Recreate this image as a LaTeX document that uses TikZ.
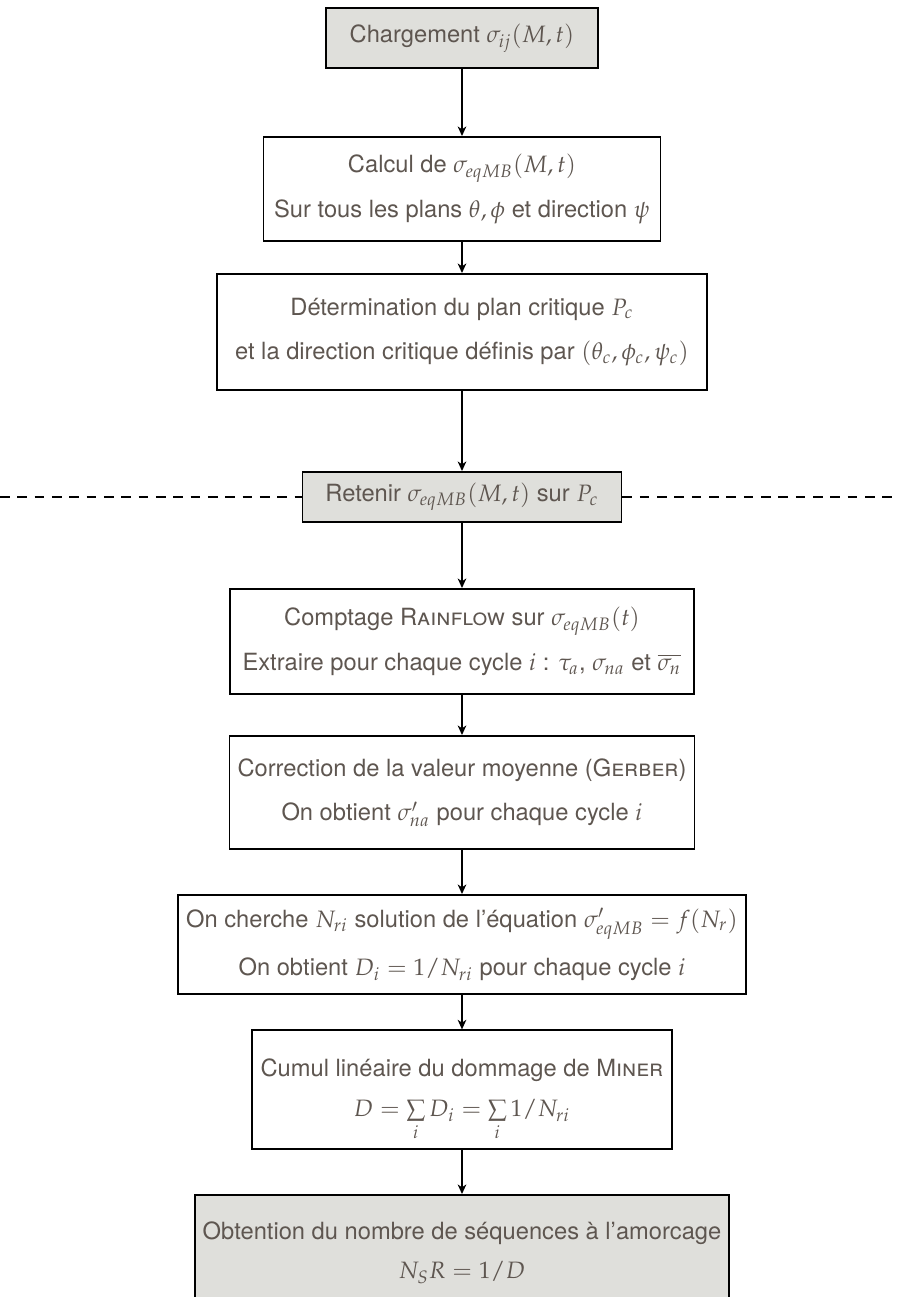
\documentclass[tikz,border=0pt]{standalone}
\usepackage{amsmath}
\usepackage{mathpazo}
\usepackage[no-math]{fontspec}
\setmainfont{TeX Gyre Heros}
\usepackage{tikz}
\usetikzlibrary{arrows.meta,calc}
\usetikzlibrary{positioning,shapes}
\definecolor{txtgray}{RGB}{94,86,80}
\definecolor{boxgray}{RGB}{223,223,219}
\newlength{\pxu}
\setlength{\pxu}{0.0146cm}
\tikzset{
    %Define style for boxes
    step box/.style n args={2}{
        rectangle,
        draw=black, line width=0.8pt,
        align=center,
        text=txtgray,
        font=\fontsize{9.85}{12}\selectfont,
        minimum width=#1\pxu,
        minimum height=#2\pxu,
    },
    key box/.style n args={2}{
        step box={#1}{#2},
        fill=boxgray,
    },
    flow/.style={
        draw=black, line width=0.6pt,
        -{Stealth[length=4pt,width=3.6pt,inset=1.2pt]},
    },
    sep line/.style={
        draw=black, line width=0.8pt,
        dash pattern=on 4pt off 3.2pt,
    },
}

\begin{document}
\begin{tikzpicture}[x=0.0146cm,y=-0.0146cm]
		\useasboundingbox (0,0) rectangle (899,1297);

		\node[key box={272}{60}] (load) at (462,38)
			{Chargement $\sigma_{ij}(M,t)$};
		\node[step box={397}{104}] (calc) at (462,189)
			{Calcul de $\sigma_{eqMB}(M,t)$\\[6.5pt]
			 Sur tous les plans $\theta,\phi$ et direction $\psi$};
		\node[step box={490}{116}] (plane) at (462,332)
			{Détermination du plan critique $P_c$\\[6.5pt]
			 et la direction critique définis par $(\theta_c,\phi_c,\psi_c)$};
		\node[key box={319}{50}] (keep) at (462,497)
			{Retenir $\sigma_{eqMB}(M,t)$ sur $P_c$};
		\node[step box={464}{105}] (count) at (462,641.5)
			{Comptage \textsc{Rainflow} sur $\sigma_{eqMB}(t)$\\[6.5pt]
			 Extraire pour chaque cycle $i$ : $\tau_a$, $\sigma_{na}$ et $\overline{\sigma_n}$};
		\node[step box={450}{113}] (mean) at (462,792.5)
			{Correction de la valeur moyenne (\textsc{Gerber})\\[6.5pt]
			 On obtient $\sigma'_{na}$ pour chaque cycle $i$};
		\node[step box={566}{99}] (solve) at (462,944.5)
			{On cherche $N_{ri}$ solution de l'équation $\sigma'_{eqMB}=f(N_r)$\\[6.5pt]
			 On obtient $D_i=1/N_{ri}$ pour chaque cycle $i$};
		\node[step box={420}{105}] (miner) at (462,1089.5)
			{\rule{0pt}{16pt}Cumul linéaire du dommage de \textsc{Miner}\\[4.5pt]
			 $D=\sum\limits_i D_i=\sum\limits_i 1/N_{ri}$};
		\node[key box={414}{115}] (life) at (462,1252.5)
			{Obtention du nombre de séquences à l'amorcage\\[4.5pt]
			 $N_SR=1/D$};

		\coordinate (lft) at (0,497);
		\coordinate (rgt) at (899,497);

		\draw[flow] (load) -- (calc);
		\draw[flow] (calc) -- (plane);
		\draw[flow] (plane) -- (keep);
		\draw[flow] (keep) -- (count);
		\draw[flow] (count) -- (mean);
		\draw[flow] (mean) -- (solve);
		\draw[flow] (solve) -- (miner);
		\draw[flow] (miner) -- (life);

		\draw[sep line] (lft) -- (keep.west);
		\draw[sep line] (keep.east) -- (rgt);
	\end{tikzpicture}
\end{document}
